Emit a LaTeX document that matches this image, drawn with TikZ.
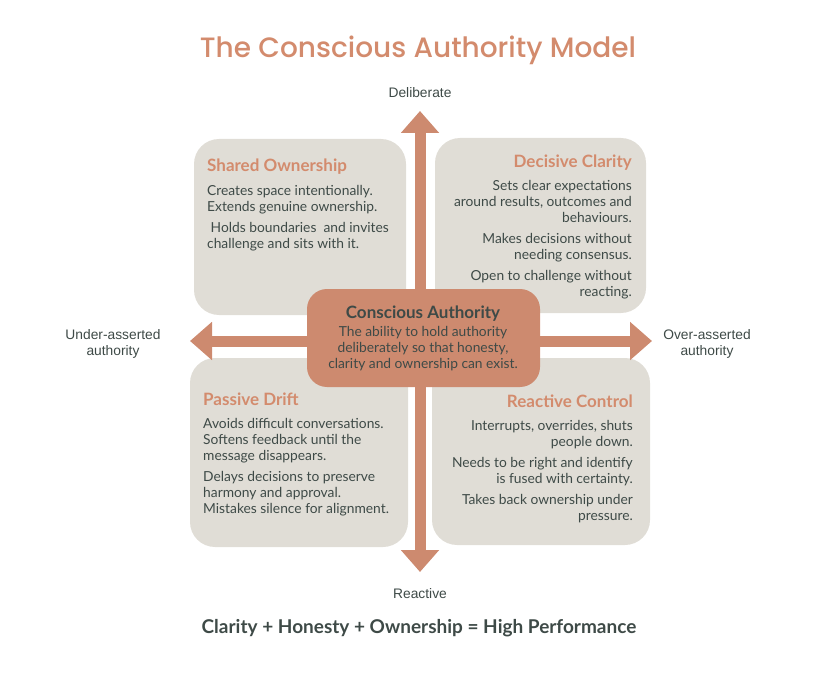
\documentclass[tikz,border=0pt]{standalone}
\usepackage{fontspec}
\usetikzlibrary{arrows.meta, positioning}
\newfontfamily\bodyfont{Lato}
\newfontfamily\labelfont{Liberation Sans}
\newfontfamily\headfont[BoldFont={Poppins Medium}]{Poppins}
\definecolor{clay}{HTML}{CD8A6F}
\definecolor{claytext}{HTML}{D38B6D}
\definecolor{stone}{HTML}{E0DDD6}
\definecolor{slate}{HTML}{3E4A47}
\tikzset{
  quadbox/.style={fill=stone, rounded corners=25pt},
  hubbox/.style={fill=clay, rounded corners=20pt},
  axisarrow/.style={line width=11pt, clay, line cap=butt, -{Triangle[width=37pt, length=22pt]}},
  quadtitle/.style={inner sep=0pt, text=claytext, font=\bodyfont\bfseries\fontsize{17}{20}\selectfont},
  bodytext/.style={inner sep=0pt, text=slate, font=\bodyfont\fontsize{13.8}{16}\selectfont},
  axislabel/.style={inner sep=0pt, text=slate, align=center, font=\labelfont\fontsize{13.8}{16}\selectfont}
}
\begin{document}
\begin{tikzpicture}[x=1pt, y=-1pt, line join=round]
  \useasboundingbox (0,0) rectangle (831,674);

  % quadrants
  \fill[quadbox] (194,139) rectangle (406,315);
  \fill[quadbox] (435,138) rectangle (646,313);
  \fill[quadbox] (190,358) rectangle (408,547);
  \fill[quadbox] (432,358) rectangle (650,545);

  % axes
  \coordinate (hub) at (420,341);
  \coordinate (deltip) at (420,111);
  \coordinate (reatip) at (420,572);
  \coordinate (undtip) at (190,341);
  \coordinate (ovetip) at (652,341);
  \draw[axisarrow] (hub) -- (deltip);
  \draw[axisarrow] (hub) -- (reatip);
  \draw[axisarrow] (hub) -- (undtip);
  \draw[axisarrow] (hub) -- (ovetip);

  % centre
  \fill[hubbox] (307,289) rectangle (540,387);
  \node[inner sep=0pt, text=slate, font=\bodyfont\bfseries\fontsize{17}{20}\selectfont, anchor=base] (hubtitle) at (423,318) {Conscious Authority};
  \node[bodytext, align=center, anchor=north] (hubtext) at (423,326) {The ability to hold authority\\deliberately so that honesty,\\clarity and ownership can exist.};

  % title and axis labels
  \node[inner sep=0pt, text=claytext, font=\headfont\bfseries\fontsize{28}{32}\selectfont, anchor=base] (title) at (418,58) {The Conscious Authority Model};
  \node[axislabel, anchor=base] (deliberate) at (420,97.3) {Deliberate};
  \node[axislabel, anchor=base] (reactive) at (420,598.3) {Reactive};
  \node[axislabel, anchor=north] (under) at (113,329.5) {Under-asserted\\authority};
  \node[axislabel, anchor=north] (over) at (707,329.5) {Over-asserted\\authority};

  % quadrant texts
  \node[quadtitle, anchor=base west] (sharedtitle) at (207,172) {Shared Ownership};
  \node[bodytext, align=left, anchor=north west] (sharedtext) at (207,185.5)
    {Creates space intentionally.\\Extends genuine ownership.\\[5pt]\ Holds boundaries\ \ and invites\\challenge and sits with it.};
  \node[quadtitle, anchor=base east] (decisivetitle) at (632,167.7) {Decisive Clarity};
  \node[bodytext, align=right, anchor=north east] (decisivetext) at (632,180.5)
    {Sets clear expectations\\around results, outcomes and\\behaviours.\\[5pt]Makes decisions without\\needing consensus.\\[5pt]Open to challenge without\\reacting.};
  \node[quadtitle, anchor=base west] (passivetitle) at (203,405) {Passive Drift};
  \node[bodytext, align=left, anchor=north west] (passivetext) at (203,418)
    {Avoids difficult conversations.\\Softens feedback until the\\message disappears.\\[5pt]Delays decisions to preserve\\harmony and approval.\\Mistakes silence for alignment.};
  \node[quadtitle, anchor=base east] (reactivetitle) at (633,407) {Reactive Control};
  \node[bodytext, align=right, anchor=north east] (reactivetext) at (633,420)
    {Interrupts, overrides, shuts\\people down.\\[5pt]Needs to be right and identify\\is fused with certainty.\\[5pt]Takes back ownership under\\pressure.};

  % formula
  \node[inner sep=0pt, text=slate, font=\bodyfont\bfseries\fontsize{19}{22}\selectfont, anchor=base] (formula) at (419,633) {Clarity + Honesty + Ownership = High Performance};
\end{tikzpicture}
\end{document}
